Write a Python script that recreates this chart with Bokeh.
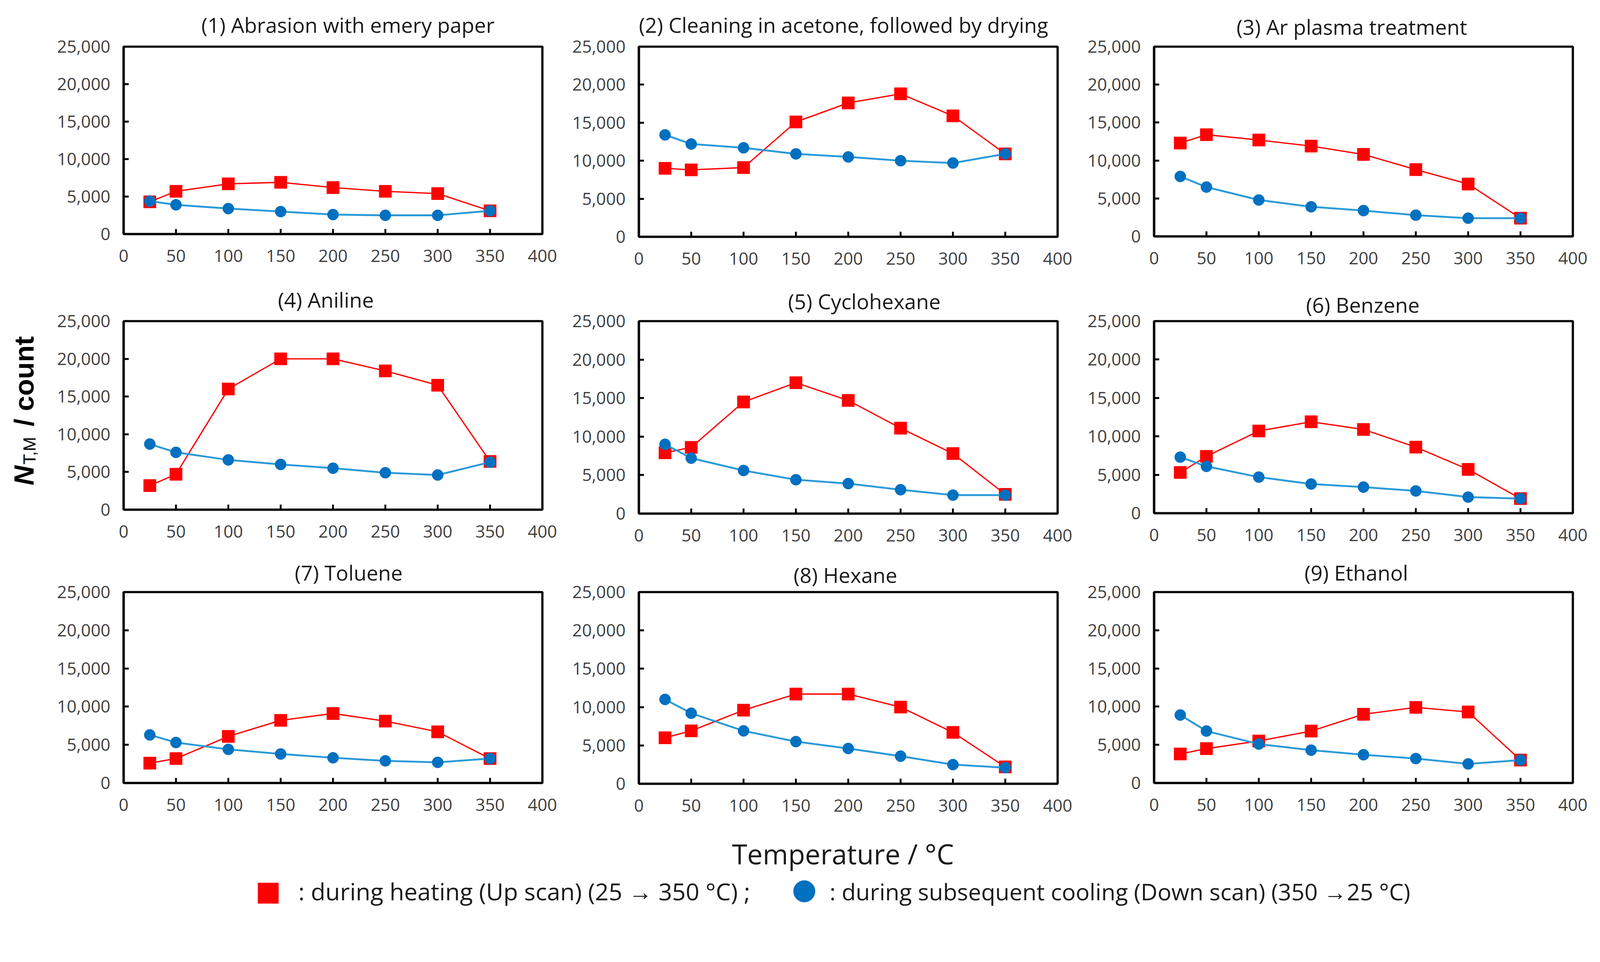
import math
from bokeh.plotting import figure
from bokeh.layouts import row, column
from bokeh.models import Range1d, FixedTicker, NumeralTickFormatter
from bokeh.embed import file_html
from bokeh.resources import INLINE
from bokeh.core.properties import value

# ---------------- data ----------------
temps = [25, 50, 100, 150, 200, 250, 300, 350]
x_ticks = [0, 50, 100, 150, 200, 250, 300, 350, 400]
y_ticks = [0, 5000, 10000, 15000, 20000, 25000]

titles = [
    "(1) Abrasion with emery paper",
    "(2) Cleaning in acetone, followed by drying",
    "(3) Ar plasma treatment",
    "(4) Aniline",
    "(5) Cyclohexane",
    "(6) Benzene",
    "(7) Toluene",
    "(8) Hexane",
    "(9) Ethanol",
]

up_abrasion = [4300, 5700, 6700, 6900, 6200, 5700, 5400, 3100]
down_abrasion = [4400, 3900, 3400, 3000, 2600, 2500, 2500, 3100]
up_acetone = [9000, 8800, 9100, 15100, 17600, 18800, 15900, 10900]
down_acetone = [13400, 12200, 11700, 10900, 10500, 10000, 9700, 10900]
up_plasma = [12300, 13400, 12700, 11900, 10800, 8800, 6900, 2400]
down_plasma = [7900, 6500, 4800, 3900, 3400, 2800, 2400, 2400]
up_aniline = [3200, 4700, 16000, 20000, 20000, 18400, 16500, 6400]
down_aniline = [8700, 7600, 6600, 6000, 5500, 4900, 4600, 6300]
up_cyclohexane = [7900, 8600, 14500, 17000, 14700, 11100, 7800, 2500]
down_cyclohexane = [9000, 7200, 5600, 4400, 3900, 3100, 2400, 2400]
up_benzene = [5300, 7400, 10700, 11900, 10900, 8600, 5700, 1900]
down_benzene = [7300, 6100, 4700, 3800, 3400, 2900, 2100, 1900]
up_toluene = [2600, 3200, 6100, 8200, 9100, 8100, 6700, 3200]
down_toluene = [6300, 5300, 4400, 3800, 3300, 2900, 2700, 3200]
up_hexane = [6000, 6900, 9600, 11700, 11700, 10000, 6700, 2200]
down_hexane = [11000, 9200, 6900, 5500, 4600, 3600, 2500, 2100]
up_ethanol = [3800, 4500, 5500, 6800, 9000, 9900, 9300, 3000]
down_ethanol = [8900, 6800, 5100, 4300, 3700, 3200, 2500, 3000]

ups = [up_abrasion, up_acetone, up_plasma, up_aniline, up_cyclohexane,
       up_benzene, up_toluene, up_hexane, up_ethanol]
downs = [down_abrasion, down_acetone, down_plasma, down_aniline, down_cyclohexane,
         down_benzene, down_toluene, down_hexane, down_ethanol]

y_label_main = "N"
y_label_sub = "T,M"
y_label_rest = "\u00a0/ count"
x_label = "Temperature / \u00b0C"
legend_up = ": during heating (Up scan) (25 \u2192 350 \u00b0C) ;"
legend_down = ": during subsequent cooling (Down scan) (350 \u219225 \u00b0C)"

# ---------------- layout / styling (reference pixels, scaled by S) ----------------
S = 0.953  # page scale compensation


def px(v):
    return int(round(v * S))


def fs(v):
    return f"{v * S:.1f}px"


FONT = "Open Sans"
RED = "#FF0000"
BLUE_M = "#0070C0"
BLUE_L = "#2A9AD8"

FRAME_W = 1125
LEFT_B, RIGHT_B = 205, 55
YFIG_W = 127
row_bounds = [0, 741, 1481, 2208]
row_frame_tops = [125, 863, 1591]
frame_hs = [504, 511, 510, 507, 517, 516, 513, 515, 513]
title_standoffs = [42, 42, 30, 40, 30, 12, 28, 16, 28]
title_lefts = [209, 0, 221, 414, 401, 408, 460, 416, 404]


def make_panel(i):
    r = i // 3
    top = row_frame_tops[r] - row_bounds[r]
    bottom = row_bounds[r + 1] - (row_frame_tops[r] + frame_hs[i])
    p = figure(frame_width=px(FRAME_W), frame_height=px(frame_hs[i]),
               min_border_left=px(LEFT_B), min_border_right=px(RIGHT_B),
               min_border_top=px(top), min_border_bottom=px(bottom),
               x_range=Range1d(0, 400), y_range=Range1d(0, 25000),
               output_backend="svg", toolbar_location=None, title=titles[i])
    p.xaxis.ticker = FixedTicker(ticks=x_ticks)
    p.yaxis.ticker = FixedTicker(ticks=y_ticks)
    p.yaxis.formatter = NumeralTickFormatter(format="0,0")
    for ax in p.axis:
        ax.axis_line_width = 6 * S
        ax.axis_line_color = "black"
        ax.major_tick_in = px(14)
        ax.major_tick_out = 0
        ax.major_tick_line_width = 5 * S
        ax.major_tick_line_color = "black"
        ax.minor_tick_line_color = None
        ax.major_label_text_font = FONT
        ax.major_label_text_font_size = fs(46)
        ax.major_label_text_color = "#404040"
    p.xaxis.major_label_standoff = px(42)
    p.yaxis.major_label_standoff = px(36)
    p.grid.visible = False
    p.outline_line_color = "black"
    p.outline_line_width = 6 * S
    p.outline_line_alpha = 1.0
    p.title.text_font = FONT
    p.title.text_font_size = fs(56)
    p.title.text_font_style = "normal"
    p.title.text_color = "#1a1a1a"
    p.title.align = "left"
    p.title.offset = px(title_lefts[i])
    p.title.standoff = px(title_standoffs[i])
    p.background_fill_color = "white"
    p.border_fill_color = "white"

    p.line(temps, ups[i], line_color=RED, line_width=3.5 * S)
    p.scatter(temps, ups[i], marker="square", size=33 * S, fill_color=RED, line_color=RED)
    p.line(temps, downs[i], line_color=BLUE_L, line_width=5 * S)
    p.scatter(temps, downs[i], marker="circle", size=30 * S, fill_color=BLUE_M, line_color=BLUE_M)
    return p


panels = [make_panel(i) for i in range(9)]

grid_h = sum(px(row_bounds[k + 1] - row_bounds[k]) for k in range(3))
grid_h_ref = grid_h / S

# ---- shared y-axis label figure (data units = reference pixels) ----
yf = figure(width=px(YFIG_W), height=grid_h, x_range=Range1d(0, px(YFIG_W) / S),
            y_range=Range1d(0, grid_h_ref), min_border=0,
            output_backend="svg", toolbar_location=None)
yf.axis.visible = False
yf.grid.visible = False
yf.outline_line_color = None
y0 = grid_h_ref - 1304
common = dict(angle=math.pi / 2, text_font=value("Liberation Sans"),
              text_baseline="middle", text_align="left", text_color="black")
yf.text(x=[64], y=[y0], text=[y_label_main], text_font_size=fs(74),
        text_font_style="bold italic", **common)
yf.text(x=[79], y=[y0 + 56], text=[y_label_sub], text_font_size=fs(46),
        text_font_style="normal", **common)
yf.text(x=[64], y=[y0 + 56 + 82], text=[y_label_rest], text_font_size=fs(74),
        text_font_style="bold", **common)

# ---- bottom figure: x-axis title and legend ----
total_w = px(YFIG_W) + 3 * (px(LEFT_B) + px(FRAME_W) + px(RIGHT_B))
page_h = px(2440)
bottom_h = page_h - grid_h
page_h_ref = page_h / S

bf = figure(width=total_w, height=bottom_h, x_range=Range1d(0, total_w / S),
            y_range=Range1d(grid_h_ref, page_h_ref), min_border=0,
            output_backend="svg", toolbar_location=None)
bf.axis.visible = False
bf.grid.visible = False
bf.outline_line_color = None


def yb(y_ref):
    # reference page y (from top) -> bottom-figure data y
    return page_h_ref - y_ref + grid_h_ref


bf.text(x=[2264], y=[yb(2294)], text=[x_label], text_font=value(FONT),
        text_font_size=fs(74), text_align="center", text_baseline="middle",
        text_color="#1a1a1a")
bf.scatter(x=[720], y=[yb(2400)], marker="square", size=55 * S,
           fill_color=RED, line_color=RED)
bf.text(x=[801], y=[yb(2395)], text=[legend_up], text_font=value(FONT),
        text_font_size=fs(64), text_align="left", text_baseline="middle",
        text_color="#1a1a1a")
bf.scatter(x=[2160], y=[yb(2395)], marker="circle", size=58 * S,
           fill_color=BLUE_M, line_color=BLUE_M)
bf.text(x=[2228], y=[yb(2395)], text=[legend_down], text_font=value(FONT),
        text_font_size=fs(62), text_align="left", text_baseline="middle",
        text_color="#1a1a1a")

grid = column(row(*panels[0:3]), row(*panels[3:6]), row(*panels[6:9]))
layout = column(row(yf, grid), bf)

open("out.html", "w").write(file_html(layout, INLINE))
